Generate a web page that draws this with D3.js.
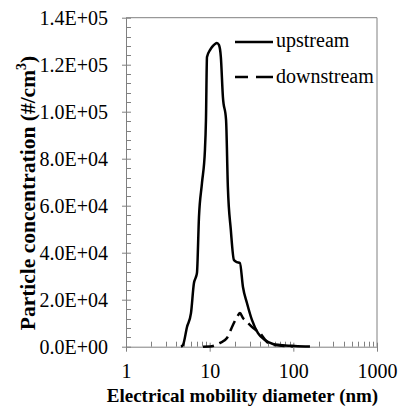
<!DOCTYPE html>
<html>
<head>
<meta charset="utf-8">
<script src="https://cdn.jsdelivr.net/npm/d3@7"></script>
<style>
  html, body { margin: 0; padding: 0; background: #fff; }
  svg { display: block; }
  svg text { font-family: "Liberation Serif", "Times New Roman", serif !important; fill: #000; }
</style>
</head>
<body>
<svg id="chart" width="398" height="410"></svg>
<script>
// ---- data ----
const upstreamDiam = [4.54, 4.8, 5.36, 5.98, 6.49, 6.86, 7.05, 7.45, 8.09, 8.78, 9.03, 9.29, 10.08, 10.95, 11.57, 12.2, 12.9, 13.6, 14.4, 15.7, 16.5, 17.9, 19.5, 21.2, 23.0, 25.0, 27.9, 32.0, 37.8, 45.8, 57.0, 69.2, 104, 158];
const upstreamConc = [0, 720, 8400, 14300, 27100, 29700, 31400, 55200, 69600, 83700, 96500, 123300, 126200, 128000, 128800, 129200, 128400, 123300, 106200, 96500, 68000, 49700, 36900, 36000, 35600, 25400, 18600, 11400, 5800, 2850, 1150, 720, 300, 85];
const downstreamDiam = [8.33, 10.08, 13.3, 16.1, 18.5, 21.2, 23.0, 25.0, 26.4, 32.9, 39.9, 48.4, 57.0, 79.4, 99];
const downstreamConc = [0, 85, 1600, 3700, 8400, 12600, 14300, 12200, 11400, 8000, 5800, 2000, 720, 300, 85];
const xTickValues = [1, 10, 100, 1000];
const xTickLabels = ["1", "10", "100", "1000"];
const yTickValues = [0, 20000, 40000, 60000, 80000, 100000, 120000, 140000];
const yTickLabels = ["0.0E+00", "2.0E+04", "4.0E+04", "6.0E+04", "8.0E+04", "1.0E+05", "1.2E+05", "1.4E+05"];
const seriesNames = ["upstream", "downstream"];

// ---- layout ----
const svg = d3.select("#chart");
const L = 126, R = 377, T = 17.7, B = 346.7;
const x = d3.scaleLog().domain([1, 1000]).range([L, R]);
const y = d3.scaleLinear().domain([0, 140000]).range([B, T]);
const axisColor = "#808080";
const serif = '"Liberation Serif", "Times New Roman", serif';

// plot border (top & right)
svg.append("path")
  .attr("d", `M${L},${T}H${R}V${B}`)
  .attr("fill", "none").attr("stroke", axisColor).attr("stroke-width", 1);

// y minor ticks (inside)
const yMinor = d3.range(0, 140001, 4000).filter(v => v % 20000 !== 0);
svg.append("g").selectAll("line").data(yMinor).join("line")
  .attr("x1", L).attr("x2", L + 5)
  .attr("y1", d => Math.round(y(d)) + 0.5).attr("y2", d => Math.round(y(d)) + 0.5)
  .attr("stroke", axisColor);

// x minor ticks (inside)
const xMinor = [];
[1, 10, 100].forEach(b => { for (let k = 2; k <= 9; k++) xMinor.push(b * k); });
svg.append("g").selectAll("line").data(xMinor).join("line")
  .attr("x1", d => Math.round(x(d)) + 0.5).attr("x2", d => Math.round(x(d)) + 0.5)
  .attr("y1", B).attr("y2", B - 5)
  .attr("stroke", axisColor);

// y axis
const yAxis = d3.axisLeft(y).tickValues(yTickValues)
  .tickFormat((d, i) => yTickLabels[i]).tickSizeInner(4).tickSizeOuter(0).tickPadding(14);
const gy = svg.append("g").attr("transform", `translate(${L},0)`).call(yAxis)
  .attr("font-family", serif).attr("font-size", 20);
gy.select(".domain").attr("stroke", axisColor);
gy.selectAll(".tick line").attr("stroke", axisColor).attr("x2", -4).attr("x1", 5);
gy.selectAll(".tick text").style("font-family", serif).style("font-size", "20px").attr("fill", "#000");

// x axis
const xAxis = d3.axisBottom(x).tickValues(xTickValues)
  .tickFormat((d, i) => xTickLabels[i]).tickSizeInner(5).tickSizeOuter(0).tickPadding(12);
const gx = svg.append("g").attr("transform", `translate(0,${B})`).call(xAxis)
  .attr("font-family", serif).attr("font-size", 20);
gx.select(".domain").attr("stroke", axisColor);
gx.selectAll(".tick line").attr("stroke", axisColor).attr("y1", -4).attr("y2", 5);
gx.selectAll(".tick text").style("font-family", serif).style("font-size", "20px").attr("fill", "#000");

// curves
const line = d3.line().x(d => x(d[0])).y(d => y(d[1])).curve(d3.curveMonotoneX);
svg.append("path")
  .datum(d3.zip(upstreamDiam, upstreamConc))
  .attr("d", line).attr("fill", "none").attr("stroke", "#000").attr("stroke-width", 2.5)
  .attr("stroke-linejoin", "round");
svg.append("path")
  .datum(d3.zip(downstreamDiam, downstreamConc))
  .attr("d", line).attr("fill", "none").attr("stroke", "#000").attr("stroke-width", 2.5)
  .attr("stroke-dasharray", "11,6");

// legend
const leg = svg.append("g");
leg.append("line").attr("x1", 235).attr("x2", 273).attr("y1", 42).attr("y2", 42)
  .attr("stroke", "#000").attr("stroke-width", 2.5);
leg.append("text").attr("x", 276).attr("y", 47).style("font-size", "20px").text(seriesNames[0]);
leg.append("line").attr("x1", 235).attr("x2", 273).attr("y1", 77).attr("y2", 77)
  .attr("stroke", "#000").attr("stroke-width", 2.5).attr("stroke-dasharray", "13,8,17");
leg.append("text").attr("x", 276).attr("y", 83).style("font-size", "20px").text(seriesNames[1]);

// axis titles
svg.append("text").attr("x", 242.5).attr("y", 402).attr("text-anchor", "middle")
  .style("font-size", "19px").style("font-weight", "bold").text("Electrical mobility diameter (nm)");

const yt = svg.append("text").attr("transform", "translate(35,193) rotate(-90)")
  .attr("text-anchor", "middle").style("font-size", "21.5px").style("font-weight", "bold");
yt.append("tspan").text("Particle concentration (#/cm");
yt.append("tspan").style("font-size", "14px").attr("dy", -9).text("3");
yt.append("tspan").attr("dy", 9).text(")");
</script>
</body>
</html>
